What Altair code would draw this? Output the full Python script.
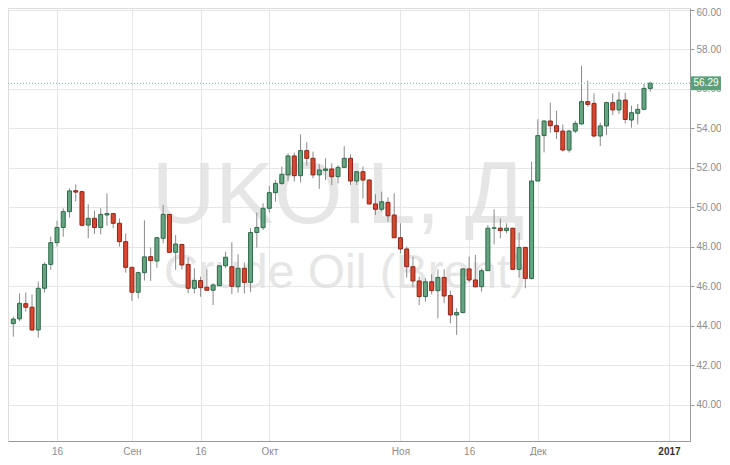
import altair as alt
import pandas as pd

# ---- data (daily Brent candles, trading-day index) ----
open_ = [44.12, 44.36, 45.13, 44.95, 43.80, 45.91, 47.12, 48.22, 48.99, 49.79,
         50.85, 50.80, 49.11, 49.45, 48.99, 49.62, 49.69, 49.20, 48.27, 46.97,
         45.71, 46.70, 47.51, 47.29, 48.44, 49.65, 47.73, 48.13, 47.12, 45.91,
         46.30, 45.96, 45.81, 46.04, 47.05, 47.00, 45.99, 46.92, 46.21, 48.73,
         48.98, 49.96, 50.75, 51.22, 51.65, 52.61, 51.61, 52.88, 52.49, 51.65,
         51.88, 51.95, 51.56, 52.03, 52.49, 51.34, 51.81, 51.39, 50.18, 49.91,
         50.26, 49.62, 48.47, 47.90, 47.00, 46.28, 45.49, 46.24, 45.79, 46.46,
         45.54, 44.56, 44.68, 46.89, 46.33, 45.99, 46.80, 48.95, 48.95, 48.83,
         48.95, 46.87, 47.98, 46.41, 51.34, 53.64, 54.38, 54.14, 53.87, 52.91,
         53.87, 54.23, 55.36, 55.27, 53.62, 54.13, 55.31, 54.94, 55.44, 54.43,
         54.77, 54.97, 56.03]
high = [44.47, 45.65, 45.70, 45.60, 46.25, 47.22, 48.52, 49.33, 49.96, 50.97,
        51.17, 50.85, 50.16, 49.84, 49.96, 50.72, 49.72, 49.45, 48.69, 46.99,
        46.75, 49.35, 47.97, 48.50, 50.13, 49.67, 48.61, 48.15, 47.46, 46.92,
        46.50, 46.87, 46.16, 47.07, 47.76, 48.24, 47.63, 47.21, 48.95, 49.75,
        50.21, 51.09, 51.39, 52.07, 52.74, 52.78, 53.70, 53.30, 52.83, 52.19,
        52.49, 52.24, 52.15, 53.10, 52.69, 51.85, 52.07, 51.44, 50.67, 50.80,
        50.51, 50.72, 49.20, 48.02, 47.51, 46.50, 46.41, 46.62, 46.87, 46.87,
        45.79, 44.90, 46.90, 47.51, 47.60, 46.92, 49.11, 49.91, 49.45, 49.20,
        48.97, 48.73, 48.00, 52.32, 54.47, 54.40, 55.31, 54.90, 54.21, 53.93,
        54.40, 57.18, 56.42, 55.78, 54.30, 55.36, 55.78, 55.86, 55.81, 55.16,
        55.24, 56.25, 56.37]
low = [43.46, 44.25, 44.73, 43.75, 43.41, 45.70, 46.84, 48.02, 48.52, 49.49,
       50.30, 49.05, 48.44, 48.66, 48.64, 49.08, 48.95, 48.02, 46.70, 45.27,
       45.40, 46.30, 46.28, 46.95, 48.19, 47.70, 46.84, 46.87, 45.65, 45.65,
       45.48, 45.79, 45.06, 46.02, 46.92, 45.62, 45.69, 45.65, 45.71, 47.97,
       48.86, 49.74, 50.30, 51.14, 51.34, 51.31, 51.27, 52.12, 51.48, 50.94,
       51.39, 51.14, 51.22, 52.02, 51.14, 51.14, 50.46, 50.16, 49.62, 49.79,
       49.28, 48.44, 47.68, 46.45, 45.96, 45.06, 45.23, 45.60, 44.39, 45.15,
       44.14, 43.55, 44.64, 46.21, 45.96, 45.74, 46.80, 48.13, 48.44, 48.69,
       46.85, 46.45, 45.91, 46.35, 51.34, 52.79, 53.79, 53.47, 52.83, 52.78,
       53.76, 54.20, 55.10, 53.55, 53.11, 53.67, 54.68, 54.73, 54.26, 54.04,
       54.21, 54.94, 55.86]
close = [44.35, 45.15, 44.95, 43.80, 45.91, 47.12, 48.22, 48.99, 49.79, 50.84,
         50.78, 49.10, 49.45, 48.99, 49.65, 49.69, 49.20, 48.27, 46.97, 45.71,
         46.70, 47.50, 47.31, 48.47, 49.65, 47.73, 48.15, 47.09, 45.91, 46.30,
         45.94, 45.81, 46.08, 47.05, 47.48, 46.01, 46.92, 46.21, 48.73, 48.99,
         49.96, 50.75, 51.22, 51.68, 52.61, 51.61, 52.88, 52.49, 51.65, 51.90,
         51.95, 51.56, 52.03, 52.49, 51.34, 51.81, 51.39, 50.18, 49.91, 50.29,
         49.58, 48.47, 47.90, 47.00, 46.28, 45.49, 46.24, 45.79, 46.46, 45.52,
         44.56, 44.68, 46.89, 46.33, 45.99, 46.80, 48.95, 48.97, 48.83, 48.95,
         46.87, 47.98, 46.41, 51.34, 53.64, 54.38, 54.14, 53.84, 52.91, 53.87,
         54.26, 55.36, 55.22, 53.62, 54.13, 55.31, 54.94, 55.44, 54.46, 54.80,
         54.97, 56.03, 56.29]

tick_index = [7, 19, 30, 41, 62, 73, 84, 105]
tick_labels = ["16", "Сен", "16", "Окт", "Ноя", "16", "Дек", "2017"]
y_ticks = [40, 42, 44, 46, 48, 50, 52, 54, 56, 58, 60]

title_main = "UKOIL, Д"
title_sub = "Crude Oil (Brent)"

# ---- frames ----
df = pd.DataFrame({"i": list(range(len(close))), "o": open_, "h": high,
                   "l": low, "c": close})
last = pd.DataFrame({"i": [len(close) - 1], "c": [close[-1]],
                     "top": [close[-1] + 0.35], "bot": [close[-1] - 0.35]})

W, H = 682, 433
GREEN_FILL, GREEN_STROKE = "#66a381", "#2c6a49"
RED_FILL, RED_STROKE = "#d8462f", "#8c2518"
WICK = "#8a8a8a"
AXIS_GREY = "#9a9a9a"
LABEL_GREY = "#8c8c8c"
FONT = "Liberation Sans"

xscale = alt.Scale(domain=[-0.047, 107.57], nice=False, zero=False)
yscale = alt.Scale(domain=[38.177, 60.101], nice=False, zero=False)

label_expr = " : ".join(f"datum.value == {v} ? '{t}'"
                        for v, t in zip(tick_index, tick_labels)) + " : ''"
last_tick = tick_index[-1]
top_tick = y_ticks[-1]

x_axis = alt.Axis(values=tick_index, labelExpr=label_expr, title=None,
                  grid=True, gridColor="#e6e6e6", ticks=False,
                  domainColor=AXIS_GREY, labelFont=FONT, labelFontSize=10,
                  labelPadding=5,
                  labelColor=alt.condition(f"datum.value == {last_tick}",
                                           alt.value("#333333"), alt.value(LABEL_GREY)),
                  labelFontWeight=alt.condition(f"datum.value == {last_tick}",
                                                alt.value("bold"), alt.value("normal")))
y_axis = alt.Axis(orient="right", values=y_ticks, format=".2f", title=None,
                  grid=True, gridColor="#e6e6e6", tickColor=AXIS_GREY,
                  tickSize=4, domainColor=AXIS_GREY, labelFont=FONT,
                  labelFontSize=10, labelColor=LABEL_GREY, labelPadding=2,
                  labelOffset=alt.condition(f"datum.value == {top_tick}",
                                            alt.value(3), alt.value(0)))

is_up = "datum.c >= datum.o"

watermark1 = alt.Chart(pd.DataFrame({"t": [title_main]})).mark_text(
    font=FONT, fontSize=88, color="#dedede", opacity=0.75,
    align="center", baseline="alphabetic"
).encode(x=alt.value(330), y=alt.value(215), text="t:N")

watermark2 = alt.Chart(pd.DataFrame({"t": [title_sub]})).mark_text(
    font=FONT, fontSize=48, color="#dedede", opacity=0.75,
    align="center", baseline="alphabetic"
).encode(x=alt.value(337), y=alt.value(280), text="t:N")

wicks = alt.Chart(df).mark_rule(color=WICK, strokeWidth=1).encode(
    x=alt.X("i:Q", scale=xscale, axis=x_axis),
    y=alt.Y("l:Q", scale=yscale, axis=y_axis),
    y2="h:Q",
)

bodies = alt.Chart(df).mark_bar(size=4, strokeWidth=1).encode(
    x=alt.X("i:Q", scale=xscale, axis=x_axis),
    y=alt.Y("o:Q", scale=yscale, axis=y_axis),
    y2="c:Q",
    fill=alt.condition(is_up, alt.value(GREEN_FILL), alt.value(RED_FILL)),
    stroke=alt.condition(is_up, alt.value(GREEN_STROKE), alt.value(RED_STROKE)),
)

price_line = alt.Chart(last).mark_rule(color="#7db494", strokeDash=[1, 2],
                                       strokeWidth=1).encode(
    y=alt.Y("c:Q", scale=yscale, axis=y_axis)
)

price_box = alt.Chart(last).mark_rect(color="#5d9f7a").encode(
    x=alt.value(W + 1), x2=alt.value(W + 31),
    y=alt.Y("top:Q", scale=yscale, axis=y_axis), y2="bot:Q",
)

price_text = alt.Chart(last).mark_text(color="white", font=FONT, fontSize=10,
                                       align="center", baseline="middle").encode(
    x=alt.value(W + 16),
    y=alt.Y("c:Q", scale=yscale, axis=y_axis),
    text=alt.Text("c:Q", format=".2f"),
)

chart = alt.layer(watermark1, watermark2, wicks, bodies, price_line,
                  price_box, price_text).properties(
    width=W, height=H,
    autosize="none",
    padding={"left": 0, "top": 0, "right": 31, "bottom": 15},
).configure_view(strokeOpacity=0).configure(background="white")

chart.save("out.html", embed_options={"renderer": "svg", "actions": False})
